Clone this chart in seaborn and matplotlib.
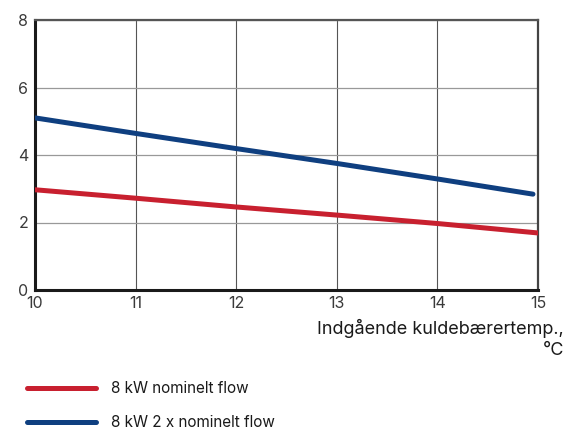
import matplotlib
matplotlib.use("Agg")
import matplotlib.pyplot as plt
import seaborn as sns
import pandas as pd

# Data
red_x = [10, 11, 12, 13, 14, 15]
red_y = [2.97, 2.72, 2.46, 2.22, 1.97, 1.69]
blue_x = [10, 11, 12, 13, 14, 14.95]
blue_y = [5.10, 4.64, 4.19, 3.75, 3.29, 2.84]
series_names = ["8 kW nominelt flow", "8 kW 2 x nominelt flow"]
x_ticks = [10, 11, 12, 13, 14, 15]
y_ticks = [0, 2, 4, 6, 8]
x_label = "Indgående kuldebærertemp.,\n°C"

sns.set_theme(style="white")
plt.rcParams['font.family'] = ['Inter', 'DejaVu Sans']

df = pd.concat([
    pd.DataFrame({"x": red_x, "y": red_y, "serie": series_names[0]}),
    pd.DataFrame({"x": blue_x, "y": blue_y, "serie": series_names[1]}),
])

fig = plt.figure(figsize=(5.71, 4.30), dpi=100)
ax = fig.add_axes([35/571, 1 - 290/430, (538-35)/571, (290-20)/430])

palette = {series_names[0]: "#C8202F", series_names[1]: "#0F3F80"}
sns.lineplot(data=df, x="x", y="y", hue="serie", palette=palette, ax=ax,
             linewidth=3.6, solid_capstyle="round", legend=False, zorder=3)

ax.set_xlim(10, 15)
ax.set_ylim(0, 8)
ax.set_xticks(x_ticks)
ax.set_yticks(y_ticks)
ax.set_xticklabels([str(t) for t in x_ticks])
ax.set_yticklabels([str(t) for t in y_ticks])
ax.set_xlabel("")
ax.set_ylabel("")

ax.grid(True, which="major", axis="x", color="#555555", linewidth=0.8, zorder=1)
ax.grid(True, which="major", axis="y", color="#999999", linewidth=0.9, zorder=1)

for side in ["left", "bottom"]:
    ax.spines[side].set_color("#1a1a1a")
    ax.spines[side].set_linewidth(2.2)
ax.spines["top"].set_color("#555555")
ax.spines["top"].set_linewidth(1.6)
ax.spines["right"].set_color("#444444")
ax.spines["right"].set_linewidth(1.6)

ax.tick_params(axis="both", direction="out", length=4, width=1.2, color="#333333",
               labelsize=11.5, labelcolor="#3a3a3a", pad=1)
ax.tick_params(axis="x", pad=0)

fig.text(564/571, 1 - 319/430, x_label, ha="right", va="top", fontsize=13,
         color="#1a1a1a", linespacing=1.3, multialignment="right")

from matplotlib.lines import Line2D
handles = [Line2D([], [], color=palette[n], linewidth=3.6, solid_capstyle="round") for n in series_names]
fig.legend(handles, series_names, loc="upper left", bbox_to_anchor=(21/571, 1 - 375/430),
           frameon=False, handlelength=4.5, handletextpad=1.0, labelspacing=1.25,
           fontsize=11, labelcolor="#1a1a1a", borderaxespad=0)

fig.savefig("out.png", dpi=100)
